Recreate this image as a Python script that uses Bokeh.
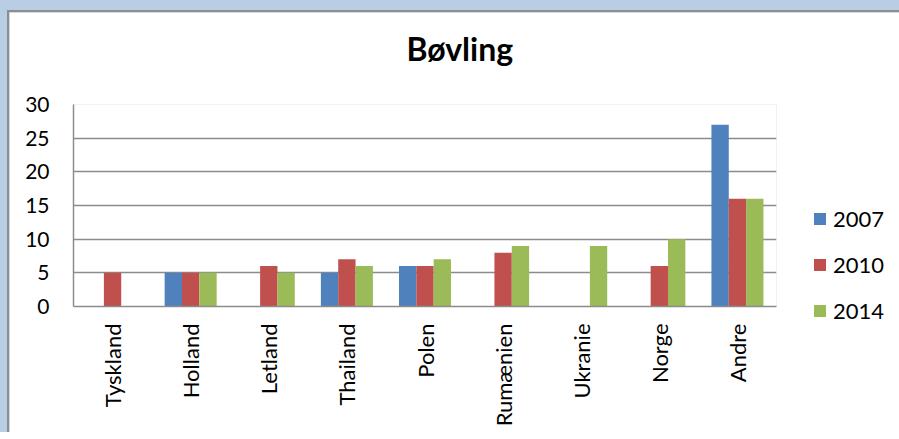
import math
from bokeh.plotting import figure
from bokeh.layouts import column
from bokeh.models import (FactorRange, Range1d, FixedTicker, Legend, LegendItem,
                          ColumnDataSource, Title)
from bokeh.transform import dodge
from bokeh.embed import file_html
from bokeh.resources import INLINE

categories = ["Tyskland", "Holland", "Letland", "Thailand", "Polen",
              "Rumænien", "Ukranie", "Norge", "Andre"]
y2007 = [0, 5, 0, 5, 6, 0, 0, 0, 27]
y2010 = [5, 5, 6, 7, 6, 8, 0, 6, 16]
y2014 = [0, 5, 5, 6, 7, 9, 9, 10, 16]
series_names = ["2007", "2010", "2014"]
colors = ["#4f81bd", "#c0504d", "#9bbb59"]
y_ticks = [0, 5, 10, 15, 20, 25, 30]

src = ColumnDataSource(dict(cat=categories, y2007=y2007, y2010=y2010, y2014=y2014))

FONT = "Lato"
GRID = "#8c8c8c"

fig = figure(x_range=FactorRange(*categories), y_range=Range1d(0, 30),
             frame_width=701, frame_height=200,
             min_border_left=64, min_border_right=125,
             min_border_top=92, min_border_bottom=128,
             output_backend="svg", toolbar_location=None,
             title="Bøvling")
fig.styles = {"border-top": "2px solid #8e8e8e", "border-left": "2px solid #8e8e8e"}
fig.background_fill_color = "white"
fig.border_fill_color = "white"
fig.outline_line_color = None

# spacer between title and plot area
fig.add_layout(Title(text=" ", text_font_size="10px", standoff=19), "above")

fig.title.text_font = FONT
fig.title.text_font_size = "32px"
fig.title.text_font_style = "bold"
fig.title.text_color = "black"
fig.title.align = "left"
fig.title.offset = 333
fig.title.standoff = 10

bw = 0.222
offsets = [-bw, 0.0, bw]
renderers = []
for name, col, off in zip(series_names, colors, offsets):
    r = fig.vbar(x=dodge("cat", off, range=fig.x_range), top="y" + name, width=bw,
                 source=src, fill_color=col, line_color=None)
    renderers.append(r)

# axes
fig.yaxis.ticker = FixedTicker(ticks=y_ticks)
fig.yaxis.major_tick_in = 0
fig.yaxis.major_tick_out = 0
fig.yaxis.minor_tick_in = 0
fig.yaxis.minor_tick_out = 0
fig.yaxis.major_label_standoff = 24
fig.yaxis.major_label_text_font = FONT
fig.yaxis.major_label_text_font_size = "21px"
fig.yaxis.major_label_text_color = "black"
fig.yaxis.axis_line_color = GRID
fig.yaxis.axis_line_width = 1.5

fig.xaxis.major_tick_in = 0
fig.xaxis.major_tick_out = 0
fig.xaxis.major_label_orientation = math.pi / 2
fig.xaxis.major_label_standoff = 17
fig.xaxis.major_label_text_font = FONT
fig.xaxis.major_label_text_font_size = "22px"
fig.xaxis.major_label_text_color = "black"
fig.xaxis.axis_line_color = GRID
fig.xaxis.axis_line_width = 1.5

fig.xgrid.grid_line_color = None
fig.ygrid.grid_line_color = GRID
fig.ygrid.grid_line_width = 1.5

legend = Legend(items=[LegendItem(label=n, renderers=[r]) for n, r in zip(series_names, renderers)],
                location=(36, -18), orientation="vertical",
                glyph_width=15, glyph_height=15, label_standoff=6,
                label_text_font=FONT, label_text_font_size="22px",
                label_text_color="black", label_height=27, spacing=19,
                padding=0, margin=0, border_line_color=None,
                background_fill_alpha=0)
fig.add_layout(legend, "right")

p = column(fig, styles={"background-color": "#b9cde5", "padding-top": "10px",
                        "padding-left": "7px"})

open("out.html", "w").write(file_html(p, INLINE))
